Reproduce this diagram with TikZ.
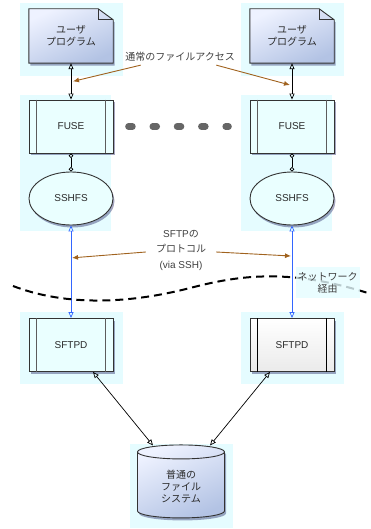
\documentclass[tikz,border=0pt]{standalone}
\usepackage{fontspec}
\setmainfont{Liberation Sans}
\newfontfamily\jp{Noto Sans CJK JP}
\usepackage{tikz}
\usetikzlibrary{positioning,arrows.meta,shapes.geometric,shadows,backgrounds,calc}
\definecolor{halo}{HTML}{E5FCFF}
\definecolor{boxfill}{HTML}{EAFFFF}
\definecolor{doctop}{HTML}{EEF2FF}
\definecolor{docbot}{HTML}{B3C3E4}
\definecolor{inkline}{HTML}{333333}
\definecolor{inktext}{HTML}{2A2A2A}
\definecolor{sftpblue}{HTML}{3366FF}
\definecolor{accbrown}{HTML}{A0621E}
\pgfdeclarelayer{halolayer}
\pgfsetlayers{halolayer,background,main}
\tikzset{
    >=Stealth,
    shade/.style={drop shadow={shadow xshift=1.5pt, shadow yshift=-2.5pt,
                  fill=blue!30!black, opacity=0.35}},
    docfill/.style={draw=inkline, line width=0.9pt, top color=doctop,
                    bottom color=docbot, shading angle=25, shade},
    proc/.style={
        rectangle,
        draw=inkline,
        line width=0.9pt,
        fill=boxfill,
        minimum width=84pt,
        minimum height=53pt,
        shade
    },
    prog/.style={rectangle, minimum width=84pt, minimum height=54pt, align=center, font=\jp},
    sshfsnode/.style={ellipse, draw=inkline, line width=0.9pt, fill=boxfill,
                      minimum width=84pt, minimum height=53pt, shade},
    disk/.style={cylinder, shape border rotate=90, aspect=0.3, draw=inkline,
                 line width=0.9pt, top color=doctop, bottom color=docbot,
                 shading angle=25, minimum width=87pt, minimum height=73pt,
                 align=center, font=\jp, shade},
    bar/.style={draw=inkline!80, line width=0.8pt},
    openboth/.style={{Triangle[open,length=6pt,width=5pt]}-{Triangle[open,length=6pt,width=5pt]},
                     line width=0.7pt},
    ringboth/.style={{Circle[open,length=4.5pt]}-{Circle[open,length=4.5pt]}, line width=0.7pt},
    accarrow/.style={-{Latex[length=6pt,width=5pt]}, draw=accbrown, line width=0.9pt},
    label/.style={align=center, text=inktext!90}
}
\newcommand{\drawdoc}[1]{%
    \draw[docfill] (#1.south west) -- (#1.north west)
        -- ([xshift=-15pt]#1.north east) -- ([yshift=-11pt]#1.north east)
        -- (#1.south east) -- cycle;
    \draw[inkline, line width=0.6pt] ([xshift=-15pt]#1.north east)
        |- ([yshift=-11pt]#1.north east);}
\newcommand{\drawbars}[2][inkline!80]{%
    \draw[bar, draw=#1] ([xshift=8pt]#2.north west) -- ([xshift=8pt]#2.south west);
    \draw[bar, draw=#1] ([xshift=-8pt]#2.north east) -- ([xshift=-8pt]#2.south east);}
\newcommand{\drawhalo}[3]{%
    \fill[halo] ([shift={(-9,-#2)}]#1.north west) rectangle ([shift={(10,#3)}]#1.south east);}

\begin{document}
\begin{tikzpicture}[x=1pt, y=-1pt, font=\fontsize{10pt}{15.5pt}\selectfont, text=inktext]
\useasboundingbox (0,0) rectangle (371,529);


\node[prog] (prog1) at (71,36) {ユーザ\\プログラム};
\node[prog] (prog2) at (292,36) {ユーザ\\プログラム};

\node[proc] (fuse1) at (71,126.5) {FUSE};
\node[proc] (fuse2) at (292,126.5) {FUSE};

\node[sshfsnode] (sshfs1) at (71,198.5) {SSHFS};
\node[sshfsnode] (sshfs2) at (292,198.5) {SSHFS};

\node[proc] (sftpd1) at (71,345) {SFTPD};
\node[proc, fill=white, top color=white, bottom color=black!8] (sftpd2) at (292,345) {SFTPD};

\node[disk] (fs) at (181,486.5) {普通の\\ファイル\\システム};

\drawbars{fuse1}
\drawbars{fuse2}
\drawbars{sftpd1}
\drawbars[black]{sftpd2}

\begin{pgfonlayer}{background}
\drawdoc{prog1}
\drawdoc{prog2}
\end{pgfonlayer}

\begin{pgfonlayer}{halolayer}
\drawhalo{prog1}{6}{13}
\drawhalo{prog2}{6}{13}
\fill[halo] ([shift={(-9,-5)}]fuse1.north west) rectangle ([shift={(10,13)}]sshfs1.south east);
\fill[halo] ([shift={(-9,-5)}]fuse2.north west) rectangle ([shift={(10,13)}]sshfs2.south east);
\drawhalo{sftpd1}{6}{12}
\drawhalo{sftpd2}{6}{12}
\fill[halo] (130,444) rectangle (233,528);
\end{pgfonlayer}


\draw[openboth] (prog1) -- (fuse1);
\draw[openboth] (prog2) -- (fuse2);
\draw[ringboth] (fuse1) -- (sshfs1);
\draw[ringboth] (fuse2) -- (sshfs2);
\draw[openboth, sftpblue] (sshfs1) -- (sftpd1);
\draw[openboth, sftpblue] (sshfs2) -- (sftpd2);
\draw[openboth] ([xshift=22pt]sftpd1.south) -- ([xshift=-28pt,yshift=-1pt]fs.north);
\draw[openboth] ([xshift=-22pt]sftpd2.south) -- ([xshift=29pt,yshift=-1pt]fs.north);

\draw[black!60, line width=6.5pt, line cap=round, dash pattern=on 4pt off 20.3pt,
      shorten <=15pt, shorten >=21pt] (fuse1) -- (fuse2);


\node[label, font=\jp] (acc) at (180,57) {通常のファイルアクセス};
\coordinate (acc1) at ($(prog1.south)!0.5!(fuse1.north)+(2,0)$);
\coordinate (acc2) at ($(prog2.south)!0.6!(fuse2.north)+(-2,0)$);
\draw[accarrow] ([xshift=19pt]acc.south west) -- (acc1);
\draw[accarrow] ([xshift=-22pt]acc.south east) -- (acc2);

\node[label, inner xsep=10pt] (sftp) at (181,250) {SFTP{\jp の}\\{\jp プロトコル}\\(via SSH)};
\coordinate (ssh1) at ($(sshfs1.south)!0.35!(sftpd1.north)+(1,0)$);
\coordinate (ssh2) at ($(sshfs2.south)!0.33!(sftpd2.north)+(-1,0)$);
\draw[accarrow] ([yshift=-2pt]sftp.west) -- (ssh1);
\draw[accarrow] ([yshift=-2pt]sftp.east) -- (ssh2);


\draw[black, line width=2pt, dash pattern=on 8pt off 5pt]
    (13,286) .. controls (60,304) and (120,306) .. (190,288)
    .. controls (240,275) and (290,268) .. (371,294);

\node[label, font=\jp, fill=halo, fill opacity=0.8, text opacity=1, inner sep=2pt,
      minimum width=63pt, minimum height=31pt] (net) at (327.5,282.5) {ネットワーク\\経由};

\end{tikzpicture}
\end{document}
